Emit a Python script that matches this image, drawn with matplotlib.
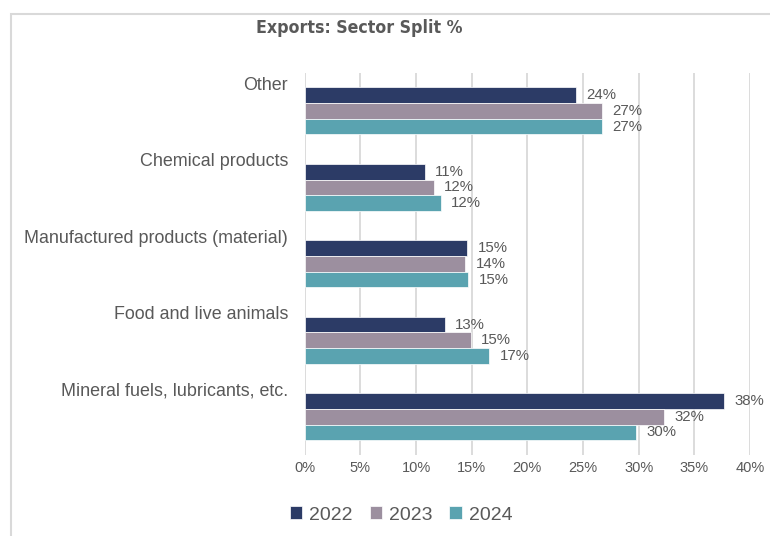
import matplotlib
matplotlib.use('Agg')
import matplotlib.pyplot as plt
import numpy as np
from matplotlib.patches import Rectangle
from matplotlib.ticker import MultipleLocator, FuncFormatter

plt.rcParams['font.family'] = ['Liberation Sans', 'DejaVu Sans']

# sectors, bottom to top
sectors = ['Mineral fuels, lubricants, etc.', 'Food and live animals',
           'Manufactured products (material)', 'Chemical products', 'Other']
years = ['2022', '2023', '2024']
share_2022 = [37.7, 12.6, 14.6, 10.8, 24.4]
share_2023 = [32.3, 14.9, 14.4, 11.6, 26.7]
share_2024 = [29.8, 16.6, 14.7, 12.2, 26.7]
colors = ['#2C3B66', '#9C8F9F', '#5AA3B0']
grey = '#595959'

fig = plt.figure(figsize=(7.7, 5.36), dpi=100)
ax = fig.add_axes([0.3957, 0.1511, 0.5783, 0.7133])

y = np.arange(len(sectors))
h = 0.205
series = [share_2022, share_2023, share_2024]
offsets = [h, 0, -h]
for vals, off, col, yr in zip(series, offsets, colors, years):
    bars = ax.barh(y + off, vals, height=h, color=col, edgecolor='white',
                   linewidth=0.5, label=yr, zorder=3)
    for b, v in zip(bars, vals):
        ax.annotate('%.0f%%' % v, (v, b.get_y() + h / 2), xytext=(7.5, 0),
                    textcoords='offset points', va='center', ha='left',
                    fontsize=10.8, color=grey)

ax.set_xlim(0, 40)
ax.set_ylim(-0.5, len(sectors) - 0.5)
ax.xaxis.set_major_locator(MultipleLocator(5))
ax.xaxis.set_major_formatter(FuncFormatter(lambda v, p: '%d%%' % v))
ax.grid(axis='x', color='#D9D9D9', linewidth=1.3, zorder=0)
ax.set_axisbelow(True)
ax.set_yticks(y + 0.36)
ax.set_yticklabels(sectors, fontsize=12.9, color=grey)
ax.tick_params(axis='y', length=0, pad=12)
ax.tick_params(axis='x', length=0, pad=4, labelsize=10.5, labelcolor=grey)
for s in ax.spines.values():
    s.set_visible(False)

fig.text(0.466, 0.948, 'Exports: Sector Split %', ha='center', va='center',
         fontsize=12.7, fontweight='bold', fontstretch='condensed', color=grey,
         family=['Liberation Sans Narrow', 'DejaVu Sans'])

leg = fig.legend(loc='center', bbox_to_anchor=(0.521, 0.039), ncol=3,
                 frameon=False, fontsize=14, handlelength=0.65, handleheight=0.65,
                 handletextpad=0.35, columnspacing=0.87)
for t in leg.get_texts():
    t.set_color(grey)

# chart area border
fig.patches.append(Rectangle((0.0143, -0.02), 1.0, 0.9939, transform=fig.transFigure,
                             fill=False, edgecolor='#D9D9D9', linewidth=1.5))

fig.savefig('out.png', dpi=100)
